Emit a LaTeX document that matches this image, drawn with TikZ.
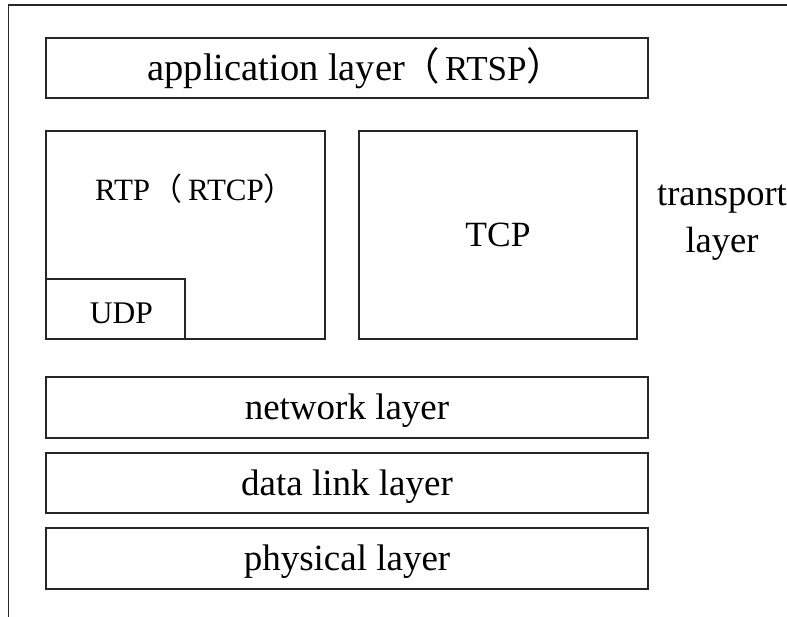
\documentclass[tikz,border=0pt]{standalone}
\usepackage{fontspec}
\setmainfont{Liberation Serif}
\newfontfamily\cjkfont{Noto Sans CJK SC}
\newcommand{\fwl}[1]{\makebox[#1][r]{\cjkfont （}}
\newcommand{\fwr}[1]{\makebox[#1][l]{\cjkfont ）}}
\tikzset{
  layerbox/.style={draw=black!85, line width=1.1pt, inner sep=0pt, rectangle,
    font=\fontsize{37}{40}\selectfont, text height=24pt, text depth=0pt},
  emptybox/.style={draw=black!85, line width=1.1pt, inner sep=0pt, rectangle},
  smalltext/.style={inner sep=0pt, font=\fontsize{31.5}{36}\selectfont},
  sidetext/.style={inner sep=0pt, font=\fontsize{36.5}{47}\selectfont, align=center}
}
\begin{document}
\begin{tikzpicture}[x=1pt, y=-1pt]
\useasboundingbox (0,0) rectangle (787,616);
\clip (0,0) rectangle (787,616);
\fill[white] (0,0) rectangle (787,616);
% outer frame (extends beyond right and bottom edges)
\draw[draw=black!85, line width=1.1pt] (8.5,5) rectangle (900,700);
\node[layerbox, minimum width=602pt, minimum height=60pt, font=\fontsize{38.5}{42}\selectfont, text height=25pt] (app) at (347,68)
  {application layer\fwl{35pt}\hspace{5pt}{\fontsize{35}{40}\selectfont RTSP}\fwr{20pt}};
\node[emptybox, minimum width=279pt, minimum height=208pt] (rtp) at (185.5,235) {};
\node[smalltext, anchor=base west, font=\fontsize{31}{36}\selectfont] (rtplabel) at (95,200)
  {RTP\fwl{32pt}\hspace{6pt}RTCP\fwr{20pt}};
\node[emptybox, minimum width=139pt, minimum height=60pt, anchor=south west] (udp) at (rtp.south west) {};
\node[smalltext, anchor=base] (udplabel) at (121.5,323) {UDP};
\node[layerbox, minimum width=278pt, minimum height=208pt, font=\fontsize{35.5}{40}\selectfont, text height=23pt] (tcp) at (498,235) {TCP};
\node[layerbox, minimum width=602pt, minimum height=61pt] (net) at (347,407.5) {network layer};
\node[layerbox, minimum width=602pt, minimum height=60pt] (dl) at (347,483) {data link layer};
\node[layerbox, minimum width=602pt, minimum height=61pt] (phy) at (347,558.5) {physical layer};
\node[sidetext, anchor=base] (trans) at (722,252) {transport\\layer};
\end{tikzpicture}
\end{document}
